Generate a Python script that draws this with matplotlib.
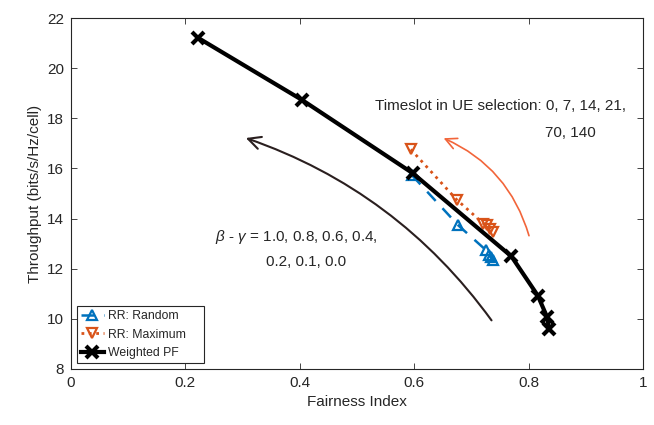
import matplotlib.pyplot as plt
from matplotlib.patches import FancyArrowPatch

plt.rcParams.update({
    "font.family": "Liberation Sans",
    "mathtext.fontset": "custom",
    "mathtext.it": "Liberation Sans:italic",
    "mathtext.rm": "Liberation Sans",
})

# ── Data ─────────────────────────────────────────────────────────────────────
rr_random_x = [0.596, 0.677, 0.726, 0.730, 0.734, 0.738]
rr_random_y = [15.73, 13.73, 12.73, 12.55, 12.45, 12.36]

rr_max_x = [0.594, 0.674, 0.721, 0.727, 0.733, 0.738]
rr_max_y = [16.76, 14.76, 13.80, 13.73, 13.60, 13.46]

pf_x = [0.222, 0.404, 0.598, 0.770, 0.816, 0.832, 0.836]
pf_y = [21.21, 18.73, 15.80, 12.49, 10.93, 10.09, 9.59]

xticks = [0, 0.2, 0.4, 0.6, 0.8, 1]
xtick_labels = ["0", "0.2", "0.4", "0.6", "0.8", "1"]
yticks = [8, 10, 12, 14, 16, 18, 20, 22]

BLUE = "#0072BD"
ORANGE = "#D95319"
ARROW_ORANGE = "#F2653A"
ARROW_DARK = "#2a1f1f"
TXT = "#262626"

fig = plt.figure(figsize=(6.54, 4.25), dpi=100)
ax = fig.add_axes([0.1086, 0.1318, 0.8746, 0.8258])

ax.plot(rr_random_x, rr_random_y, color=BLUE, ls=(0, (5, 4)), lw=1.8,
        marker="^", ms=6.5, mfc="none", mew=1.6, label="RR: Random")
ax.plot(rr_max_x, rr_max_y, color=ORANGE, ls=":", lw=2.0,
        marker="v", ms=6.5, mfc="none", mew=1.6, label="RR: Maximum")
ax.plot(pf_x, pf_y, color="black", lw=3.0,
        marker="x", ms=9, mew=3.0, label="Weighted PF")

# curved arrows
ax.add_patch(FancyArrowPatch((0.802, 13.21), (0.647, 17.25),
                             connectionstyle="arc3,rad=0.24", arrowstyle="->,head_length=8,head_width=4",
                             color=ARROW_ORANGE, lw=1.2))
ax.add_patch(FancyArrowPatch((0.738, 9.85), (0.301, 17.25),
                             connectionstyle="arc3,rad=0.16", arrowstyle="->,head_length=9,head_width=4.5",
                             color=ARROW_DARK, lw=1.5))

ax.text(0.531, 18.49, "Timeslot in UE selection: 0, 7, 14, 21,", fontsize=11, va="center", color=TXT)
ax.text(0.829, 17.41, "70, 140", fontsize=11, va="center", color=TXT)
ax.text(0.252, 13.25, r"$\beta$ - $\gamma$ = 1.0, 0.8, 0.6, 0.4,", fontsize=11, va="center", color=TXT)
ax.text(0.341, 12.25, "0.2, 0.1, 0.0", fontsize=11, va="center", color=TXT)

ax.set_xlim(0, 1)
ax.set_ylim(8, 22)
ax.set_xticks(xticks)
ax.set_xticklabels(xtick_labels)
ax.set_yticks(yticks)
ax.tick_params(direction="in", length=4, width=0.6, labelsize=11, top=True, right=True,
               colors=TXT, labelcolor=TXT, pad=5)
for s in ax.spines.values():
    s.set_linewidth(0.8)
    s.set_color(TXT)

ax.set_xlabel("Fairness Index", fontsize=11, color=TXT)
ax.set_ylabel("Throughput (bits/s/Hz/cell)", fontsize=11, color=TXT)

leg = ax.legend(loc="lower left", bbox_to_anchor=(0.0105, 0.017, 0.222, 0.16), mode="expand",
                fontsize=8.8, handlelength=1.9, handletextpad=0.3,
                borderaxespad=0, borderpad=0.3, labelspacing=0.55, fancybox=False,
                edgecolor=TXT, framealpha=1)
leg.get_frame().set_linewidth(0.8)
for t in leg.get_texts():
    t.set_color(TXT)

plt.savefig("out.png", dpi=100)
